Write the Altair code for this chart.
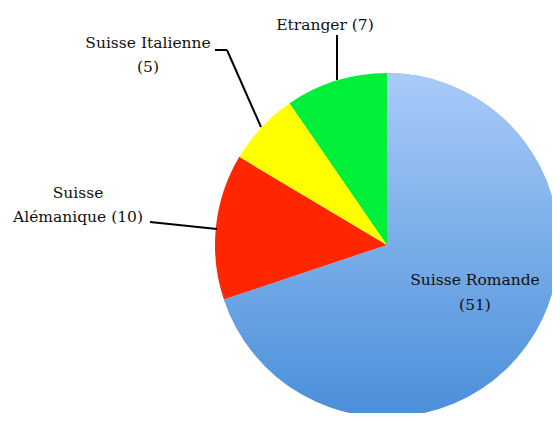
import altair as alt
import pandas as pd

categories = ["Suisse Romande", "Suisse Alémanique", "Suisse Italienne", "Etranger"]
values = [51, 10, 5, 7]
colors = ["#7aaeea", "#ff2600", "#ffff00", "#00f03a"]

df = pd.DataFrame({"cat": categories, "value": values, "order": list(range(len(values)))})
total = sum(values)

CX, CY, R = 379, 237, 172
FONT = "DejaVu Serif"
FS = 15.5

base = alt.Chart(df).transform_window(
    end="sum(value)", sort=[alt.SortField("order")], frame=[None, 0]
).transform_calculate(start="datum.end - datum.value")

theta = alt.Theta("start:Q", scale=alt.Scale(domain=[0, total], range=[0, 6.283185307179586]))
theta2 = alt.Theta2("end:Q")

arcs = base.mark_arc(outerRadius=R).encode(
    theta=theta, theta2=theta2,
    x=alt.value(CX), y=alt.value(CY),
    color=alt.Color("cat:N", scale=alt.Scale(domain=categories, range=colors), legend=None),
)

romande = base.transform_filter(alt.datum.cat == "Suisse Romande").mark_arc(
    outerRadius=R,
    fill=alt.Gradient(
        gradient="linear",
        stops=[alt.GradientStop(color="#a9cbf9", offset=0), alt.GradientStop(color="#4a8fd9", offset=1)],
        x1=0, x2=0, y1=0, y2=1,
    ),
).encode(theta=theta, theta2=theta2, x=alt.value(CX), y=alt.value(CY))

labels = [
    ("Etranger (7)", 317, 17),
    ("Suisse Italienne", 140, 35),
    ("(5)", 140, 59),
    ("Suisse", 70, 185),
    ("Alémanique (10)", 70, 209),
    ("Suisse Romande", 467, 272),
    ("(51)", 467, 297),
]

lines = [
    (329, 27, 329, 72),
    (207, 42, 219, 42),
    (219, 42, 253, 119),
    (142, 214, 209, 221),
]

layers = [arcs, romande]
for txt, x, y in labels:
    layers.append(
        alt.Chart(df).transform_filter(alt.datum.order == 0).mark_text(
            text=txt, font=FONT, fontSize=FS, color="#111111", align="center", baseline="middle"
        ).encode(x=alt.value(x), y=alt.value(y))
    )
for x1, y1, x2, y2 in lines:
    layers.append(
        alt.Chart(df).transform_filter(alt.datum.order == 0).mark_rule(color="black", strokeWidth=2).encode(
            x=alt.value(x1), y=alt.value(y1), x2=alt.value(x2), y2=alt.value(y2)
        )
    )

chart = alt.layer(*layers).properties(
    width=544, height=405, padding=0, autosize=alt.AutoSizeParams(type="none")
).configure_view(stroke=None)

chart.save("out.html", embed_options={"renderer": "svg", "actions": False})
